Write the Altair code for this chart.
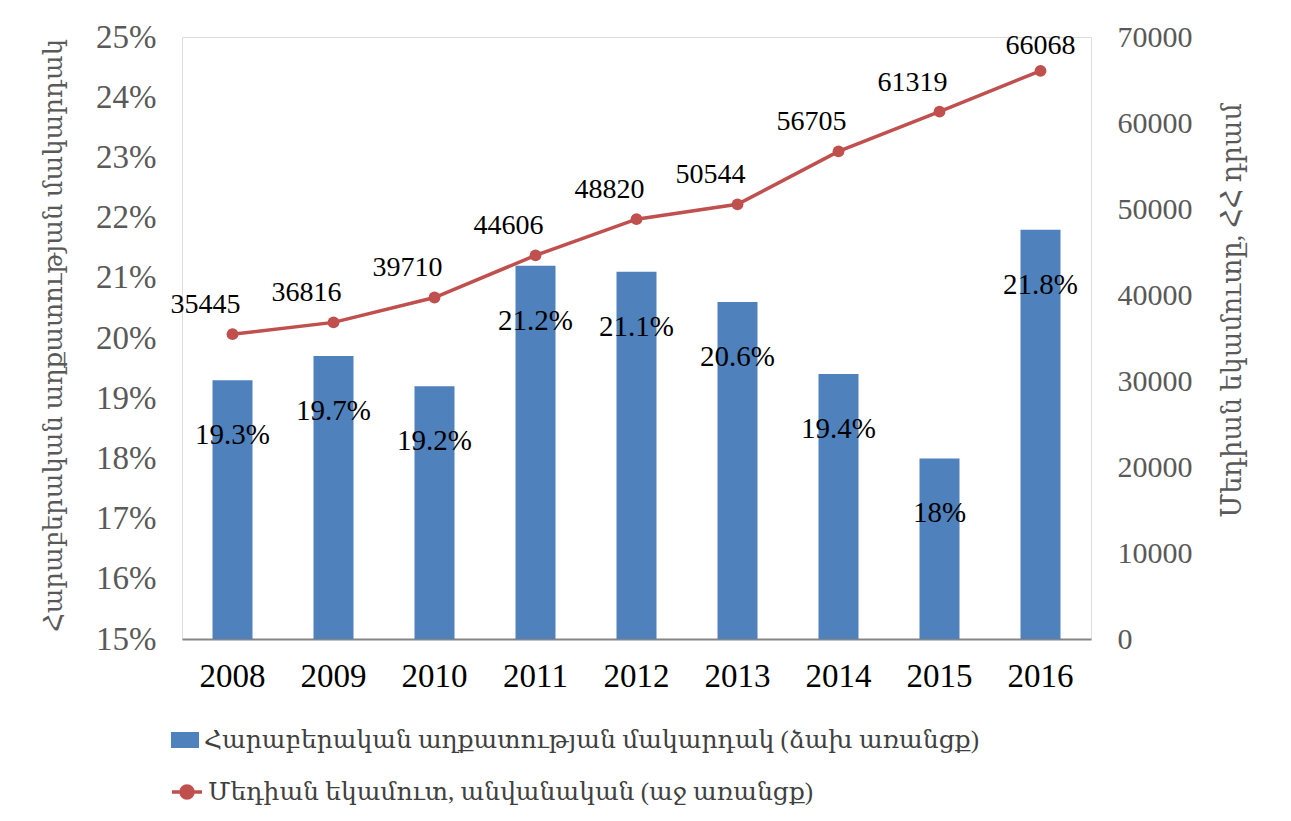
import altair as alt
import pandas as pd

years = ["2008", "2009", "2010", "2011", "2012", "2013", "2014", "2015", "2016"]
poverty_pct = [19.3, 19.7, 19.2, 21.2, 21.1, 20.6, 19.4, 18.0, 21.8]
median_income = [35445, 36816, 39710, 44606, 48820, 50544, 56705, 61319, 66068]

left_ticks = [15, 16, 17, 18, 19, 20, 21, 22, 23, 24, 25]
right_ticks = [0, 10000, 20000, 30000, 40000, 50000, 60000, 70000]

bar_series = "Հարաբերական աղքատության մակարդակ (ձախ առանցք)"
line_series = "Մեդիան եկամուտ, անվանական (աջ առանցք)"
left_title = "Հարաբերական աղքատության մակարդակ"
right_title = "Մեդիան եկամուտը, ՀՀ դրամ"

BLUE = "#4F81BD"
RED = "#C0504D"
FONT = "Liberation Serif, DejaVu Serif, serif"

df = pd.DataFrame({
    "year": years,
    "pct": poverty_pct,
    "income": median_income,
    "s1": [bar_series] * len(years),
    "s2": [line_series] * len(years),
})

x_enc = alt.X(
    "year:O",
    title=None,
    scale=alt.Scale(paddingInner=0.6, paddingOuter=0.3),
    axis=alt.Axis(labelAngle=0, labelFontSize=33, labelColor="#000000", labelFont=FONT,
                  labelPadding=21, ticks=False, domainColor="#868686", domainWidth=2),
)

y_left = alt.Y(
    "pct:Q",
    scale=alt.Scale(domain=[15, 25], zero=False, nice=False),
    axis=alt.Axis(values=left_ticks, labelExpr="datum.value + '%'", title=left_title,
                  labelFontSize=33, labelColor="#595959", labelFont=FONT, labelPadding=26,
                  titleFontSize=26, titleColor="#595959", titleFont=FONT, titleFontWeight="normal",
                  titleX=-129, titleY=298, titleBaseline="middle", titleAngle=270,
                  ticks=False, domain=False, grid=False),
)

y_right = alt.Y(
    "income:Q",
    scale=alt.Scale(domain=[0, 70000], nice=False),
    axis=alt.Axis(orient="right", values=right_ticks, format="d", title=right_title,
                  labelFontSize=30, labelColor="#595959", labelFont=FONT, labelPadding=26,
                  titleFontSize=27, titleColor="#595959", titleFont=FONT, titleFontWeight="normal",
                  titleAngle=270, titleX=141, titleY=273, titleBaseline="middle",
                  ticks=False, domain=False, grid=False),
)

base = alt.Chart(df)

bars = base.mark_bar(size=40).encode(
    x=x_enc,
    y=y_left,
    y2=alt.datum(15),
    fill=alt.Fill("s1:N", scale=alt.Scale(domain=[bar_series], range=[BLUE]),
                  legend=alt.Legend(title=None, orient="none", legendX=-12, legendY=688,
                                    symbolType="M-1,-0.57H1V0.57H-1Z", symbolSize=784,
                                    labelFontSize=25, labelFont=FONT, labelColor="#404040",
                                    labelLimit=2000, labelOffset=4)),
)

bar_text = base.mark_text(fontSize=29, font=FONT, color="#000000", dy=55).encode(
    x=x_enc,
    y=y_left,
    text=alt.Text("pct_label:N"),
).transform_calculate(pct_label="datum.pct + '%'")

left = alt.layer(bars, bar_text)

line = base.mark_line(color=RED, strokeWidth=3.5,
                      point=alt.OverlayMarkDef(filled=True, size=140, color=RED)).encode(
    x=x_enc,
    y=y_right,
    color=alt.Color("s2:N", scale=alt.Scale(domain=[line_series], range=[RED]),
                    legend=alt.Legend(title=None, orient="none", legendX=-12, legendY=738,
                                      symbolType="M-1,0H1M-0.4,0A0.4,0.4 0 1,0 0.4,0A0.4,0.4 0 1,0 -0.4,0",
                                      symbolSize=900, symbolStrokeWidth=3.5,
                                      symbolFillColor=RED,
                                      labelFontSize=25, labelFont=FONT, labelColor="#404040",
                                      labelLimit=2000, labelOffset=4)),
)

line_text = base.mark_text(fontSize=28, font=FONT, color="#000000", dx=-27, dy=-29).encode(
    x=x_enc, y=y_right, text=alt.Text("income:Q", format="d"),
).transform_filter("datum.year != '2016'")

line_text_last = base.mark_text(fontSize=28, font=FONT, color="#000000", dy=-25).encode(
    x=x_enc, y=y_right, text=alt.Text("income:Q", format="d"),
).transform_filter("datum.year == '2016'")

right = alt.layer(line, line_text, line_text_last)

chart = alt.layer(left, right).resolve_scale(y="independent", fill="independent", color="independent").properties(
    width=909, height=602,
    autosize=alt.AutoSizeParams(type="none"),
    padding={"left": 174, "top": 29, "right": 184, "bottom": 166},
).configure_view(stroke=None).configure(background="white")

chart.save("out.html", embed_options={"renderer": "svg", "actions": False})
